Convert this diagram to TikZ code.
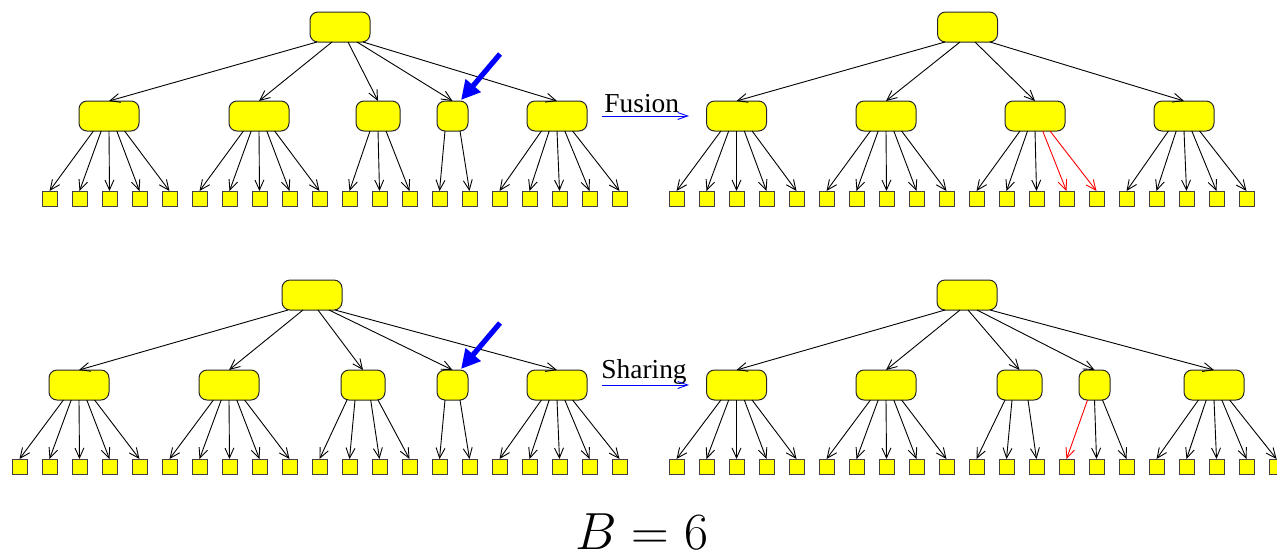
\documentclass[tikz,border=0pt]{standalone}
\usepackage{fontspec}
\setmainfont{Liberation Serif}
\usetikzlibrary{arrows.meta,calc}
\definecolor{yel}{RGB}{255,255,0}
\definecolor{bblue}{RGB}{0,0,255}
\definecolor{rred}{RGB}{255,0,0}
\newcommand\tkedge[4]{\draw[edge,#4] ($(#1.south)+(#3,0)$) -- (#2.north);}
\begin{document}
\begin{tikzpicture}[x=0.5pt,y=-0.5pt,
  inner/.style={draw=black!85, fill=yel, line width=0.5pt, rounded corners=4pt,
    minimum height=15pt, minimum width=30pt, inner sep=0pt, outer sep=0pt},
  leaf/.style={draw=black!75, fill=yel, line width=0.5pt, minimum width=7.5pt,
    minimum height=7.5pt, inner sep=0pt, outer sep=0pt},
  edge/.style={draw=black, line width=0.45pt, -{Straight Barb[length=5pt,width=4.5pt]}},
  rededge/.style={draw=rred},
  plain/.style={},
  bigarrow/.style={draw=bblue, line width=2.6pt, -{Triangle[length=9.5pt,width=9.5pt]}},
  opnarrow/.style={draw=bblue, line width=0.45pt, -{Straight Barb[length=5pt,width=3.5pt]}},
  lbl/.style={inner sep=0pt, anchor=base west, font=\fontsize{13.7}{16}\selectfont}]
\useasboundingbox (0,0) rectangle (1277,558);

% ---------------- top-left tree ----------------
\node[inner] (Ar) at (340,27) {};
\node[inner] (A1) at (109,116) {};
\node[inner] (A2) at (259,116) {};
\node[inner, minimum width=22pt] (A3) at (378,116) {};
\node[inner, minimum width=15.5pt] (A4) at (452.5,116) {};
\node[inner] (A5) at (557,116) {};
\foreach \i in {0,...,19} \node[leaf] (Al\i) at ({49.5+30*\i},198.5) {};
\tkedge{Ar}{A1}{-23}{plain}
\tkedge{Ar}{A2}{-8}{plain}
\tkedge{Ar}{A3}{8}{plain}
\tkedge{Ar}{A4}{17}{plain}
\tkedge{Ar}{A5}{23}{plain}
\foreach \k/\o in {0/-15.6,1/-7.8,2/0,3/7.8,4/15.6} {\tkedge{A1}{Al\k}{\o}{plain}}
\foreach \k/\o in {5/-15.6,6/-7.8,7/0,8/7.8,9/15.6} {\tkedge{A2}{Al\k}{\o}{plain}}
\foreach \k/\o in {10/-8,11/0,12/8} {\tkedge{A3}{Al\k}{\o}{plain}}
\foreach \k/\o in {13/-7.5,14/7.5} {\tkedge{A4}{Al\k}{\o}{plain}}
\foreach \k/\o in {15/-15.6,16/-7.8,17/0,18/7.8,19/15.6} {\tkedge{A5}{Al\k}{\o}{plain}}
\coordinate (bsA) at (500,54);
\draw[bigarrow] (bsA) -- ($(A4.north east)+(-7,-1)$);

% label Fusion
\node[lbl] (fus) at (604,112) {Fusion};
\coordinate (fusS) at (602,116);
\coordinate (fusE) at (689,116);
\draw[opnarrow] (fusS) -- (fusE);

% ---------------- top-right tree ----------------
\node[inner] (Br) at (967.5,27) {};
\node[inner] (B1) at (736.5,116) {};
\node[inner] (B2) at (886,116) {};
\node[inner] (B3) at (1035,116) {};
\node[inner] (B4) at (1184,116) {};
\foreach \i in {0,...,19} \node[leaf] (Bl\i) at ({676.5+30*\i},198.5) {};
\tkedge{Br}{B1}{-22.5}{plain}
\tkedge{Br}{B2}{-7.5}{plain}
\tkedge{Br}{B3}{7.5}{plain}
\tkedge{Br}{B4}{22.5}{plain}
\foreach \k/\o in {0/-15.6,1/-7.8,2/0,3/7.8,4/15.6} {\tkedge{B1}{Bl\k}{\o}{plain}}
\foreach \k/\o in {5/-15.6,6/-7.8,7/0,8/7.8,9/15.6} {\tkedge{B2}{Bl\k}{\o}{plain}}
\foreach \k/\o in {10/-15,11/-7.5,12/0} {\tkedge{B3}{Bl\k}{\o}{plain}}
\foreach \k/\o in {13/7.7,14/15} {\tkedge{B3}{Bl\k}{\o}{rededge}}
\foreach \k/\o in {15/-15.6,16/-7.8,17/0,18/7.8,19/15.6} {\tkedge{B4}{Bl\k}{\o}{plain}}

% ---------------- bottom-left tree ----------------
\node[inner] (Cr) at (312,295) {};
\node[inner] (C1) at (79,385) {};
\node[inner] (C2) at (229,385) {};
\node[inner, minimum width=22pt] (C3) at (363,385) {};
\node[inner, minimum width=15.5pt] (C4) at (452.5,385) {};
\node[inner] (C5) at (557,385) {};
\foreach \i in {0,...,20} \node[leaf] (Cl\i) at ({19.5+30*\i},466.5) {};
\tkedge{Cr}{C1}{-24}{plain}
\tkedge{Cr}{C2}{-9}{plain}
\tkedge{Cr}{C3}{6}{plain}
\tkedge{Cr}{C4}{17}{plain}
\tkedge{Cr}{C5}{23}{plain}
\foreach \k/\o in {0/-15.6,1/-7.8,2/0,3/7.8,4/15.6} {\tkedge{C1}{Cl\k}{\o}{plain}}
\foreach \k/\o in {5/-15.6,6/-7.8,7/0,8/7.8,9/15.6} {\tkedge{C2}{Cl\k}{\o}{plain}}
\foreach \k/\o in {10/-16,11/-8,12/7.7,13/15} {\tkedge{C3}{Cl\k}{\o}{plain}}
\foreach \k/\o in {14/-7.5,15/7.5} {\tkedge{C4}{Cl\k}{\o}{plain}}
\foreach \k/\o in {16/-15.6,17/-7.8,18/0,19/7.8,20/15.6} {\tkedge{C5}{Cl\k}{\o}{plain}}
\coordinate (bsC) at (500,323);
\draw[bigarrow] (bsC) -- ($(C4.north east)+(-7,-1)$);

% label Sharing
\node[lbl] (shr) at (601,378) {Sharing};
\coordinate (shrS) at (602,385);
\coordinate (shrE) at (689,385);
\draw[opnarrow] (shrS) -- (shrE);

% ---------------- bottom-right tree ----------------
\node[inner] (Dr) at (967,295) {};
\node[inner] (D1) at (736.5,385) {};
\node[inner] (D2) at (886,385) {};
\node[inner, minimum width=22.5pt] (D3) at (1019.5,385) {};
\node[inner, minimum width=15.5pt] (D4) at (1094.5,385) {};
\node[inner] (D5) at (1214,385) {};
\foreach \i in {0,...,20} \node[leaf] (Dl\i) at ({676.5+30*\i},466.5) {};
\tkedge{Dr}{D1}{-22}{plain}
\tkedge{Dr}{D2}{-7}{plain}
\tkedge{Dr}{D3}{1}{plain}
\tkedge{Dr}{D4}{10}{plain}
\tkedge{Dr}{D5}{23}{plain}
\foreach \k/\o in {0/-15.6,1/-7.8,2/0,3/7.8,4/15.6} {\tkedge{D1}{Dl\k}{\o}{plain}}
\foreach \k/\o in {5/-15.6,6/-7.8,7/0,8/7.8,9/15.6} {\tkedge{D2}{Dl\k}{\o}{plain}}
\foreach \k/\o in {10/-14.5,11/-7.5,12/8.5} {\tkedge{D3}{Dl\k}{\o}{plain}}
\tkedge{D4}{Dl13}{-7}{rededge}
\foreach \k/\o in {14/0,15/8} {\tkedge{D4}{Dl\k}{\o}{plain}}
\foreach \k/\o in {16/-15.6,17/-7.8,18/0,19/7.8,20/15.6} {\tkedge{D5}{Dl\k}{\o}{plain}}

% caption
\node[inner sep=0pt, anchor=base, scale=1.05] (cap) at (642,549) {\fontsize{24.88}{30}\selectfont $B = 6$};
\end{tikzpicture}
\end{document}
